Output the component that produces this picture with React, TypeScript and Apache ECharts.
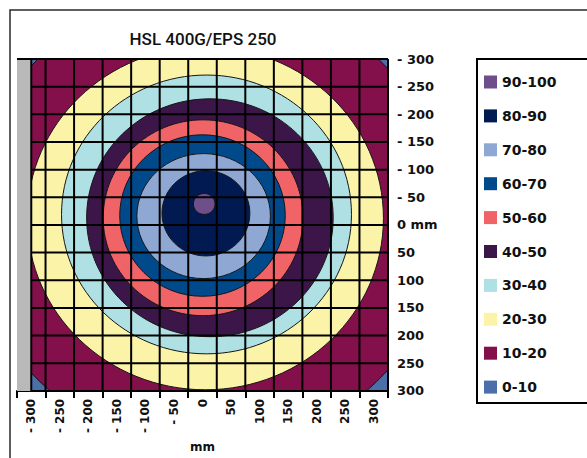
import React, { useEffect, useRef } from "react";
import * as echarts from "echarts";

// ---------- data ----------
const chartTitle = "HSL 400G/EPS 250";
const xCategoryLabels = ["- 300", "- 250", "- 200", "- 150", "- 100", "- 50", "0", "50", "100", "150", "200", "250", "300"];
const xCellBoundaries = [-325, -275, -225, -175, -125, -75, -25, 25, 75, 125, 175, 225, 275, 325];
const dataLeftEdge = -300;
const yMin = -300;
const yMax = 300;
const yStep = 50;
const yTicks = [-300, -250, -200, -150, -100, -50, 0, 50, 100, 150, 200, 250, 300];

// bands, outer boundary of each band as an ellipse (mm): centre x, centre y, radius x, radius y
const bandNames = ["0-10", "10-20", "20-30", "30-40", "40-50", "50-60", "60-70", "70-80", "80-90", "90-100"];
const bandColors = ["#4b6fa9", "#84104b", "#fbf4a8", "#aee0e4", "#3c1649", "#f06468", "#004a8b", "#8fa8d3", "#011a52", "#6f4e8c"];
const bandCentreX = [null, 10, 5, 7, 13, 1, 0, 2, 6, 3];
const bandCentreY = [null, -10, -12, -19, -13, -13, -17, -16, -21, -38];
const bandRadiusX = [null, 417, 312, 254, 216, 175, 145, 117, 77, 19];
const bandRadiusY = [null, 415, 310, 252, 215, 177, 146, 113, 77, 19];

const FONT = "'DejaVu Sans', Roboto, sans-serif";
const TITLE_FONT = "Roboto, 'Liberation Sans', sans-serif";

export default function App() {
  const ref = useRef<HTMLDivElement>(null);
  useEffect(() => {
    if (!ref.current) return;
    const chart = echarts.init(ref.current, null, { renderer: "svg" });

    const bandSeries: any[] = bandNames.map((name, i) => {
      const color = bandColors[i];
      if (i === 0) {
        return {
          type: "custom",
          name,
          xAxisIndex: 0,
          yAxisIndex: 0,
          clip: true,
          itemStyle: { color },
          encode: { x: [0, 2], y: [1, 3] },
          data: [[dataLeftEdge, yMin, xCellBoundaries[xCellBoundaries.length - 1], yMax]],
          renderItem: (params: any, api: any) => {
            const a = api.coord([api.value(0), api.value(1)]);
            const b = api.coord([api.value(2), api.value(3)]);
            return {
              type: "rect",
              shape: { x: Math.min(a[0], b[0]), y: Math.min(a[1], b[1]), width: Math.abs(b[0] - a[0]), height: Math.abs(b[1] - a[1]) },
              style: { fill: color },
            };
          },
        };
      }
      return {
        type: "custom",
        name,
        xAxisIndex: 0,
        yAxisIndex: 0,
        clip: true,
        itemStyle: { color },
        encode: { x: 0, y: 1 },
        data: [[bandCentreX[i], bandCentreY[i], bandRadiusX[i], bandRadiusY[i]]],
        renderItem: (params: any, api: any) => {
          const c = api.coord([api.value(0), api.value(1)]);
          const s = api.size([api.value(2), api.value(3)]);
          return {
            type: "ellipse",
            shape: { cx: c[0], cy: c[1], rx: Math.abs(s[0]), ry: Math.abs(s[1]) },
            style: { fill: color, stroke: "#151515", lineWidth: 1 },
          };
        },
      };
    });

    const graySeries = {
      type: "custom",
      name: "gray",
      xAxisIndex: 0,
      yAxisIndex: 0,
      clip: true,
      encode: { x: [0, 2], y: [1, 3] },
      data: [[xCellBoundaries[0], yMin, dataLeftEdge, yMax]],
      renderItem: (params: any, api: any) => {
        const a = api.coord([api.value(0), api.value(1)]);
        const b = api.coord([api.value(2), api.value(3)]);
        return {
          type: "rect",
          shape: { x: Math.min(a[0], b[0]), y: Math.min(a[1], b[1]), width: Math.abs(b[0] - a[0]), height: Math.abs(b[1] - a[1]) },
          style: { fill: "#b9b9b9" },
        };
      },
    };

    const xRight = xCellBoundaries[xCellBoundaries.length - 1];
    const gridLineData: number[][] = [];
    [dataLeftEdge, ...xCellBoundaries.slice(1)].forEach((x) => gridLineData.push([x, yMin, x, yMax]));
    yTicks.forEach((y) => gridLineData.push([y === yMin ? xCellBoundaries[0] : dataLeftEdge, y, xRight, y]));

    const gridSeries = {
      type: "custom",
      name: "grid",
      xAxisIndex: 0,
      yAxisIndex: 0,
      clip: false,
      encode: { x: [0, 2], y: [1, 3] },
      data: gridLineData,
      renderItem: (params: any, api: any) => {
        const a = api.coord([api.value(0), api.value(1)]);
        const b = api.coord([api.value(2), api.value(3)]);
        return {
          type: "line",
          shape: { x1: a[0], y1: a[1], x2: b[0], y2: b[1] },
          style: { stroke: "#000", lineWidth: 2 },
        };
      },
    };

    chart.setOption({
      animation: false,
      backgroundColor: "#fff",
      grid: { left: 17, top: 59, width: 371, height: 344, containLabel: false },
      xAxis: [
        { type: "value", min: xCellBoundaries[0], max: xRight, show: false },
        {
          type: "category",
          data: xCategoryLabels,
          boundaryGap: true,
          position: "bottom",
          axisLine: { show: true, lineStyle: { color: "#000", width: 2 } },
          axisTick: { show: true, length: 7, lineStyle: { color: "#000", width: 2 } },
          axisLabel: { rotate: 90, fontFamily: FONT, fontWeight: "bold", fontSize: 12, color: "#111", margin: 8 },
          splitLine: { show: false },
          name: "mm",
          nameLocation: "middle",
          nameGap: 38,
          nameTextStyle: { fontFamily: FONT, fontWeight: "bold", fontSize: 12, color: "#111" },
        },
      ],
      yAxis: {
        type: "value",
        min: yMin,
        max: yMax,
        interval: yStep,
        inverse: true,
        position: "right",
        axisLine: { show: true, lineStyle: { color: "#000", width: 2 } },
        axisTick: { show: true, length: 7, lineStyle: { color: "#000", width: 2 } },
        axisLabel: {
          fontFamily: FONT,
          fontWeight: "bold",
          fontSize: 13,
          color: "#111",
          margin: 9,
          formatter: (v: number) => (v < 0 ? "- " + -v : v === 0 ? "0 mm" : String(v)),
        },
        splitLine: { show: false },
      },
      legend: {
        orient: "vertical",
        left: 484,
        top: 75,
        padding: 0,
        icon: "rect",
        itemWidth: 13,
        itemHeight: 13,
        itemGap: 19.9,
        data: [...bandNames].reverse(),
        textStyle: { fontFamily: FONT, fontWeight: "bold", fontSize: 14, color: "#111" },
        selectedMode: false,
      },
      graphic: [
        { type: "rect", shape: { x: 10, y: 10, width: 700, height: 600 }, style: { fill: "none", stroke: "#2a2a2a", lineWidth: 1.5 }, silent: true },
        { type: "rect", shape: { x: 477, y: 59, width: 200, height: 344 }, style: { fill: "none", stroke: "#000", lineWidth: 2 }, silent: true },
        {
          type: "text",
          x: 203,
          y: 39,
          style: { text: chartTitle, textAlign: "center", textVerticalAlign: "middle", font: `500 17px ${TITLE_FONT}`, fill: "#111" },
        },
      ],
      series: [...bandSeries, graySeries, gridSeries],
    });
    return () => chart.dispose();
  }, []);
  return <div ref={ref} style={{ position: "absolute", left: 0, top: 0, width: 587, height: 458 }} />;
}
